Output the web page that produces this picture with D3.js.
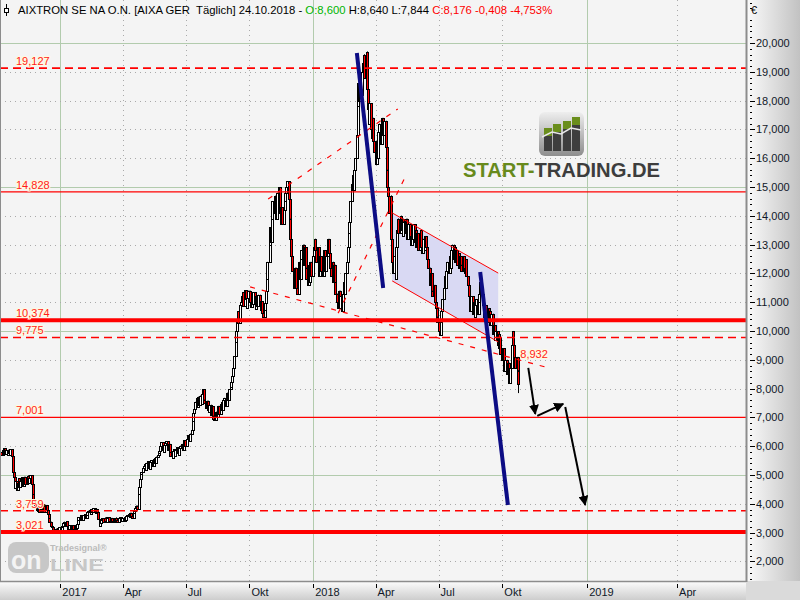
<!DOCTYPE html>
<html><head><meta charset="utf-8">
<script src="https://cdn.jsdelivr.net/npm/d3@7"></script>
<style>
body{margin:0;background:#fff}
svg{display:block}
text{font-family:Arial,"Liberation Sans",sans-serif}
</style>
</head><body>
<svg id="c" width="800" height="600"></svg>
<script>
// ---------------- DATA ----------------
const title = "AIXTRON SE NA O.N. [AIXA GER  Täglich] 24.10.2018 - ";
const headerOpen = "O:8,600";
const headerHL = " H:8,640 L:7,844 ";
const headerClose = "C:8,176 -0,408 -4,753%";
const startDate = "2016-10-06", lastDate = "2018-10-24", axisEnd = "2019-06-09";
// daily closing prices (EUR), one per trading day up to 24.10.2018
const closes = [
5.80,5.70,5.88,5.74,5.92,5.72,5.86,5.68,5.88,5.76,5.70,5.90,5.66,5.10,4.94,4.54,4.78,4.48,4.72,4.88,4.58,4.80,4.92,4.62,4.82,
4.94,4.68,4.88,4.98,4.72,4.90,5.00,4.70,4.34,4.14,3.98,3.90,3.80,4.00,3.76,3.96,3.72,3.90,3.98,3.74,3.92,3.72,3.96,3.78,3.64,
3.50,3.38,3.24,3.18,3.10,3.06,3.02,3.14,3.02,3.16,3.04,3.18,3.06,3.20,3.24,3.34,3.38,3.24,3.40,3.22,3.14,3.26,3.12,3.24,3.12,
3.26,3.14,3.28,3.16,3.30,3.44,3.54,3.42,3.60,3.48,3.44,3.60,3.64,3.50,3.62,3.70,3.76,3.80,3.66,3.82,3.70,3.84,3.72,3.68,3.82,
3.70,3.46,3.24,3.34,3.42,3.50,3.38,3.52,3.40,3.36,3.50,3.54,3.41,3.38,3.51,3.40,3.36,3.50,3.39,3.52,3.42,3.38,3.51,3.54,3.42,
3.40,3.52,3.41,3.54,3.43,3.56,3.60,3.66,3.54,3.69,3.56,3.52,3.68,3.74,3.86,3.94,3.82,4.35,4.60,4.86,5.02,5.10,5.24,5.32,5.38,
5.16,5.42,5.48,5.24,5.20,5.44,5.52,5.30,5.54,5.60,5.40,5.64,5.70,5.78,5.84,6.00,6.14,5.88,5.80,6.04,6.12,6.18,5.94,5.86,6.08,
5.80,5.66,5.60,5.84,5.90,5.66,5.88,5.96,5.76,5.70,5.94,6.02,6.08,5.88,6.14,6.20,6.00,6.24,6.32,6.38,6.18,6.44,6.56,6.88,7.14,
7.28,7.54,7.66,7.36,7.72,7.42,7.76,7.48,7.82,7.98,7.62,7.50,7.32,7.58,7.26,7.18,7.44,7.10,7.38,7.06,6.96,6.90,7.20,7.00,7.28,
7.40,7.12,7.46,7.52,7.24,7.60,7.68,7.40,7.74,7.86,7.60,7.98,8.06,8.22,8.42,8.72,9.12,9.62,10.00,10.40,10.68,10.28,10.90,11.00,11.20,
11.34,10.86,11.42,11.10,10.80,11.16,11.40,11.00,10.84,11.28,10.92,11.34,11.00,10.78,11.20,10.86,11.26,10.94,10.74,11.04,10.62,10.48,10.72,10.96,11.40,
11.80,12.40,13.00,13.60,13.10,13.90,14.50,14.10,14.70,14.20,13.90,14.80,15.00,14.10,13.70,14.30,13.70,14.20,14.50,14.80,15.00,15.20,14.60,13.90,13.20,
12.60,12.10,11.80,11.50,12.20,11.50,11.30,11.90,12.40,11.80,12.50,12.80,13.00,12.30,12.90,12.20,11.80,11.60,12.30,11.70,12.40,11.90,12.60,12.90,13.20,
12.80,12.40,12.90,12.20,11.90,12.60,12.10,11.90,12.50,12.80,12.10,12.60,13.00,13.20,12.70,12.20,11.90,12.40,11.70,12.30,11.70,11.30,11.00,10.80,11.40,
10.80,11.20,10.70,11.30,11.70,11.30,12.00,12.40,12.90,13.40,13.80,14.50,15.10,15.40,14.90,15.60,16.00,16.80,17.80,18.60,18.00,18.80,18.20,19.00,19.30,
19.60,18.80,19.70,18.40,17.70,17.20,17.90,17.00,16.70,17.40,16.60,16.20,15.80,16.60,16.00,16.90,17.20,16.50,17.30,17.40,16.80,17.30,16.40,15.60,15.00,
14.70,14.10,14.70,13.20,12.40,12.00,12.60,11.80,12.90,13.50,13.90,13.40,14.00,13.50,13.90,13.30,13.80,13.40,13.90,13.40,13.20,13.70,13.30,13.00,13.60,
13.20,13.70,13.10,13.50,12.90,13.40,12.80,13.30,13.50,12.90,12.70,13.20,12.80,13.30,12.90,12.50,12.20,11.90,11.60,12.00,11.40,11.20,11.60,11.00,10.80,
10.50,10.30,10.00,9.85,10.30,10.70,11.10,11.50,11.90,11.50,12.10,12.40,12.00,12.60,12.20,12.80,13.00,12.50,12.90,12.40,12.80,12.30,12.70,12.20,12.60,
12.30,12.10,12.60,12.20,12.00,12.50,11.90,11.60,11.20,10.90,10.70,11.20,10.60,11.00,10.50,10.90,11.10,10.60,11.00,11.30,11.70,11.30,10.90,10.70,10.50,
10.90,10.40,10.80,10.30,10.70,10.20,10.60,10.10,9.90,10.20,9.70,10.00,9.50,9.90,9.40,9.80,9.20,9.00,9.40,8.80,8.60,9.00,8.50,8.90,8.40,
8.20,8.70,9.50,10.00,9.50,9.10,8.70,9.10,8.584,8.176
];
const lastOpen = 8.600, lastHigh = 8.640, lastLow = 7.844;

// horizontal support / resistance levels
const levelValues = [19.127, 14.828, 10.374, 9.775, 7.001, 3.759, 3.021];
const levelLabels = ["19,127", "14,828", "10,374", "9,775", "7,001", "3,759", "3,021"];

// drawn trend lines: [date, price] pairs
const trendDashed = [
  [["2017-10-02", 11.53], ["2018-11-20", 8.75]],
  [["2017-10-28", 14.58], ["2018-05-03", 17.71]],
  [["2018-02-06", 10.62], ["2018-05-13", 15.31]]
];
const trendLabel = {date: "2018-10-25", value: 8.932, text: "8,932"};
const blueLines = [
  [["2018-03-05", 19.65], ["2018-04-12", 11.49]],
  [["2018-08-30", 12.05], ["2018-10-09", 3.96]]
];
const channelUpper = [["2018-04-25", 14.10], ["2018-09-25", 12.01]];
const channelLower = [["2018-04-25", 11.74], ["2018-09-25", 9.62]];
const arrows = [
  [["2018-11-03", 8.72], ["2018-11-10", 7.12]],
  [["2018-11-12", 7.05], ["2018-12-08", 7.47]],
  [["2018-12-10", 7.36], ["2018-12-30", 3.96]]
];
const quarterNames = ["Apr", "Jul", "Okt"];
const yTicks = d3.range(2, 21);

// ---------------- CHART ----------------
const svg = d3.select("#c");
const plotR = 746, plotB = 581;
const parse = d3.utcParse("%Y-%m-%d");
const x = d3.scaleUtc()
  .domain([parse(startDate), parse(lastDate), parse(axisEnd)])
  .range([0, 518.3, plotR]);
const y = d3.scaleLinear().domain([1.319, 21.493]).range([plotB, 0]);
const de = d3.formatLocale({decimal: ",", thousands: ".", grouping: [3], currency: ["", "€"]});
const fmt = de.format(".3f");

const defs = svg.append("defs");
const gR = defs.append("linearGradient").attr("id", "gR").attr("x1", 0).attr("x2", 1).attr("y1", 0).attr("y2", 0);
gR.append("stop").attr("offset", 0).attr("stop-color", "#fbfbfb");
gR.append("stop").attr("offset", 1).attr("stop-color", "#c2c2c2");
const gB = defs.append("linearGradient").attr("id", "gB").attr("x1", 0).attr("x2", 0).attr("y1", 0).attr("y2", 1);
gB.append("stop").attr("offset", 0).attr("stop-color", "#fdfdfd");
gB.append("stop").attr("offset", 1).attr("stop-color", "#cdcdcd");
defs.append("marker").attr("id", "ah").attr("viewBox", "0 0 10 10").attr("refX", 9).attr("refY", 5)
  .attr("markerWidth", 5).attr("markerHeight", 5).attr("markerUnits", "strokeWidth").attr("orient", "auto")
  .append("path").attr("d", "M0,0L10,5L0,10z").attr("fill", "#000");

// backgrounds
svg.append("rect").attr("x", 0).attr("y", 0).attr("width", plotR).attr("height", plotB).attr("fill", "#f4f4f4");
svg.append("rect").attr("x", plotR).attr("y", 0).attr("width", 800 - plotR).attr("height", plotB).attr("fill", "url(#gR)");
svg.append("rect").attr("x", 0).attr("y", plotB).attr("width", plotR).attr("height", 600 - plotB).attr("fill", "url(#gB)");
svg.append("rect").attr("x", plotR).attr("y", plotB).attr("width", 800 - plotR).attr("height", 600 - plotB).attr("fill", "#dadada");

// grid
const grid = svg.append("g");
const qTicks = x.ticks(d3.utcMonth.every(3)).filter(d => x(d) > 0 && x(d) < plotR);
grid.selectAll("line.v").data(qTicks).join("line")
  .attr("x1", d => Math.round(x(d)) + 0.5).attr("x2", d => Math.round(x(d)) + 0.5)
  .attr("y1", 0).attr("y2", plotB)
  .attr("stroke", d => d.getUTCMonth() === 0 ? "#b2cbad" : "#a9a9a9")
  .attr("stroke-dasharray", d => d.getUTCMonth() === 0 ? null : "1,4");
grid.selectAll("line.h").data(yTicks).join("line")
  .attr("x1", 0).attr("x2", plotR)
  .attr("y1", d => Math.round(y(d)) + 0.5).attr("y2", d => Math.round(y(d)) + 0.5)
  .attr("stroke", d => d % 5 === 0 ? "#b2cbad" : "#a9a9a9")
  .attr("stroke-dasharray", d => d % 5 === 0 ? null : "1,4");

// channel fill
const pt = p => [x(parse(p[0])), y(p[1])];
const chPoly = [pt(channelUpper[0]), pt(channelUpper[1]), pt(channelLower[1]), pt(channelLower[0])];
svg.append("path").attr("d", "M" + chPoly.join("L") + "Z").attr("fill", "#d9d9f3");

// logo START-TRADING.DE
const logo = svg.append("g");
const gI = defs.append("linearGradient").attr("id", "gI").attr("x1", 0).attr("x2", 0).attr("y1", 0).attr("y2", 1);
gI.append("stop").attr("offset", 0).attr("stop-color", "#eeeeee");
gI.append("stop").attr("offset", 1).attr("stop-color", "#8d8d8d");
logo.append("rect").attr("x", 539).attr("y", 112).attr("width", 45).attr("height", 44).attr("rx", 6).attr("fill", "url(#gI)");
[[544, 128], [553, 124], [563, 121], [572, 117]].forEach(([bx, by]) => {
  logo.append("rect").attr("x", bx).attr("y", by).attr("width", 8).attr("height", 151 - by).attr("fill", "#3e3e3e");
  logo.append("rect").attr("x", bx).attr("y", by).attr("width", 8).attr("height", 8).attr("fill", "#6a8e1c");
});
logo.append("path").attr("d", "M542,137L552,132L561,134L571,128L581,130").attr("fill", "none").attr("stroke", "#e8e8e8").attr("stroke-width", 1.5);
const lt = logo.append("text").attr("x", 463).attr("y", 177).attr("font-size", 20).attr("font-weight", "bold")
  .attr("font-family", "'DejaVu Sans',Verdana,sans-serif").attr("textLength", 197).attr("lengthAdjust", "spacingAndGlyphs");
lt.append("tspan").attr("fill", "#678a1c").text("START-");
lt.append("tspan").attr("fill", "#3d3d3d").text("TRADING.DE");

// Tradesignal online watermark
const wm = svg.append("g");
wm.append("rect").attr("x", 8).attr("y", 542).attr("width", 41).attr("height", 31).attr("rx", 8).attr("fill", "#c7c7c7");
wm.append("text").attr("x", 11).attr("y", 569).attr("font-size", 25).attr("font-weight", "bold").attr("fill", "#f4f4f4").text("on");
wm.append("text").attr("x", 50).attr("y", 571).attr("font-size", 17).attr("font-weight", "bold").attr("fill", "#c7c7c7")
  .attr("textLength", 54).attr("lengthAdjust", "spacingAndGlyphs").text("LINE");
wm.append("text").attr("x", 50).attr("y", 551).attr("font-size", 9).attr("font-weight", "bold").attr("fill", "#bbbbbb").text("Tradesignal®");

// candles
const dates = [];
let dd = parse(lastDate);
while (dates.length < closes.length) {
  const wd = dd.getUTCDay();
  if (wd !== 0 && wd !== 6) dates.unshift(dd);
  dd = d3.utcDay.offset(dd, -1);
}
const bars = closes.map((c, i) => {
  const o = i === closes.length - 1 ? lastOpen : (i ? closes[i - 1] : c);
  const b = {date: dates[i], open: o, close: c, high: Math.max(o, c), low: Math.min(o, c)};
  if (i === closes.length - 1) { b.high = lastHigh; b.low = lastLow; }
  return b;
});
const cg = svg.append("g");
cg.selectAll("g").data(bars).join("g").each(function (b) {
  const xc = Math.round(x(b.date));
  const s = d3.select(this);
  s.append("line").attr("x1", xc + 0.5).attr("x2", xc + 0.5).attr("y1", y(b.high)).attr("y2", y(b.low)).attr("stroke", "#000");
  const top = Math.round(y(Math.max(b.open, b.close))), bot = Math.round(y(Math.min(b.open, b.close)));
  s.append("rect").attr("x", xc - 0.5).attr("y", top + 0.5).attr("width", 2).attr("height", Math.max(bot - top, 1))
    .attr("fill", b.close >= b.open ? "#fff" : "#ff0000").attr("stroke", "#000");
});

// horizontal levels
const levelStyle = ["dash", "solid", "thick", "dash", "solid", "dash", "thick"];
const lv = svg.append("g");
levelValues.forEach((v, i) => {
  const st = levelStyle[i];
  lv.append("line").attr("x1", 0).attr("x2", plotR).attr("y1", y(v)).attr("y2", y(v))
    .attr("stroke", "#ff0000").attr("stroke-width", st === "thick" ? 4 : (st === "dash" ? 1.6 : 1.2))
    .attr("stroke-dasharray", st === "dash" ? "8,5" : null);
  lv.append("text").attr("x", 16).attr("y", y(v) - 3).attr("font-size", 11).attr("fill", "#ff1a1a")
    .attr("stroke", "#fffbe0").attr("stroke-width", 2).attr("paint-order", "stroke").text(levelLabels[i]);
});

// trend lines
const line = d3.line().x(p => x(parse(p[0]))).y(p => y(p[1]));
svg.append("g").selectAll("path").data(trendDashed).join("path").attr("d", line)
  .attr("fill", "none").attr("stroke", "#ff0000").attr("stroke-width", 1.2).attr("stroke-dasharray", "5,7");
svg.append("g").selectAll("path").data([channelUpper, channelLower]).join("path").attr("d", line)
  .attr("fill", "none").attr("stroke", "#ff0000").attr("stroke-width", 1);
svg.append("text").attr("x", x(parse(trendLabel.date)) + 1).attr("y", y(trendLabel.value) - 4)
  .attr("font-size", 11).attr("fill", "#ff1a1a").attr("stroke", "#fffbe0").attr("stroke-width", 2)
  .attr("paint-order", "stroke").text(trendLabel.text);
svg.append("g").selectAll("path").data(blueLines).join("path").attr("d", line)
  .attr("fill", "none").attr("stroke", "#0c0c84").attr("stroke-width", 4);
svg.append("g").selectAll("path").data(arrows).join("path").attr("d", line)
  .attr("fill", "none").attr("stroke", "#000").attr("stroke-width", 2).attr("marker-end", "url(#ah)");

// frame
svg.append("line").attr("x1", plotR + 0.5).attr("x2", plotR + 0.5).attr("y1", 0).attr("y2", plotB + 1).attr("stroke", "#8c8c8c").attr("stroke-width", 2);
svg.append("line").attr("x1", 0).attr("x2", plotR).attr("y1", plotB + 0.5).attr("y2", plotB + 0.5).attr("stroke", "#8c8c8c").attr("stroke-width", 1.5);
svg.append("line").attr("x1", 0.5).attr("x2", 0.5).attr("y1", 0).attr("y2", plotB).attr("stroke", "#8c8c8c");

// right axis
const ra = svg.append("g");
const minor = d3.range(1.4, 21.5, 0.2).filter(v => Math.abs(v - Math.round(v)) > 0.05);
ra.selectAll("line.mn").data(minor).join("line")
  .attr("x1", 750).attr("x2", 752).attr("y1", d => Math.round(y(d)) + 0.5).attr("y2", d => Math.round(y(d)) + 0.5).attr("stroke", "#000");
ra.selectAll("line.mj").data(yTicks).join("line")
  .attr("x1", 750).attr("x2", 755).attr("y1", d => Math.round(y(d)) + 0.5).attr("y2", d => Math.round(y(d)) + 0.5).attr("stroke", "#000");
ra.selectAll("text").data(yTicks).join("text").attr("x", 756).attr("y", d => y(d) + 4)
  .attr("font-size", 11).attr("fill", "#101828").text(d => fmt(d));
ra.append("text").attr("x", 751).attr("y", 14).attr("font-size", 11).attr("fill", "#000").text("€");

// bottom axis
const ba = svg.append("g");
ba.selectAll("line").data(qTicks).join("line")
  .attr("x1", d => Math.round(x(d)) + 0.5).attr("x2", d => Math.round(x(d)) + 0.5).attr("y1", 584).attr("y2", 588).attr("stroke", "#000");
ba.selectAll("text").data(qTicks).join("text").attr("x", d => x(d) + 2).attr("y", 596)
  .attr("font-size", 11).attr("fill", "#101828")
  .text(d => d.getUTCMonth() === 0 ? d.getUTCFullYear() : quarterNames[d.getUTCMonth() / 3 - 1]);

// header
const hd = svg.append("g");
hd.append("line").attr("x1", 6.5).attr("x2", 6.5).attr("y1", 4).attr("y2", 16).attr("stroke", "#000");
hd.append("rect").attr("x", 4.5).attr("y", 8.5).attr("width", 4).attr("height", 4).attr("fill", "#fff").attr("stroke", "#000");
const ht = hd.append("text").attr("x", 18).attr("y", 14).attr("font-size", 11.3).attr("fill", "#000")
  .style("white-space", "pre");
ht.append("tspan").text(title);
ht.append("tspan").attr("fill", "#00b400").text(headerOpen);
ht.append("tspan").text(headerHL);
ht.append("tspan").attr("fill", "#ff0000").text(headerClose);
</script>
</body></html>
